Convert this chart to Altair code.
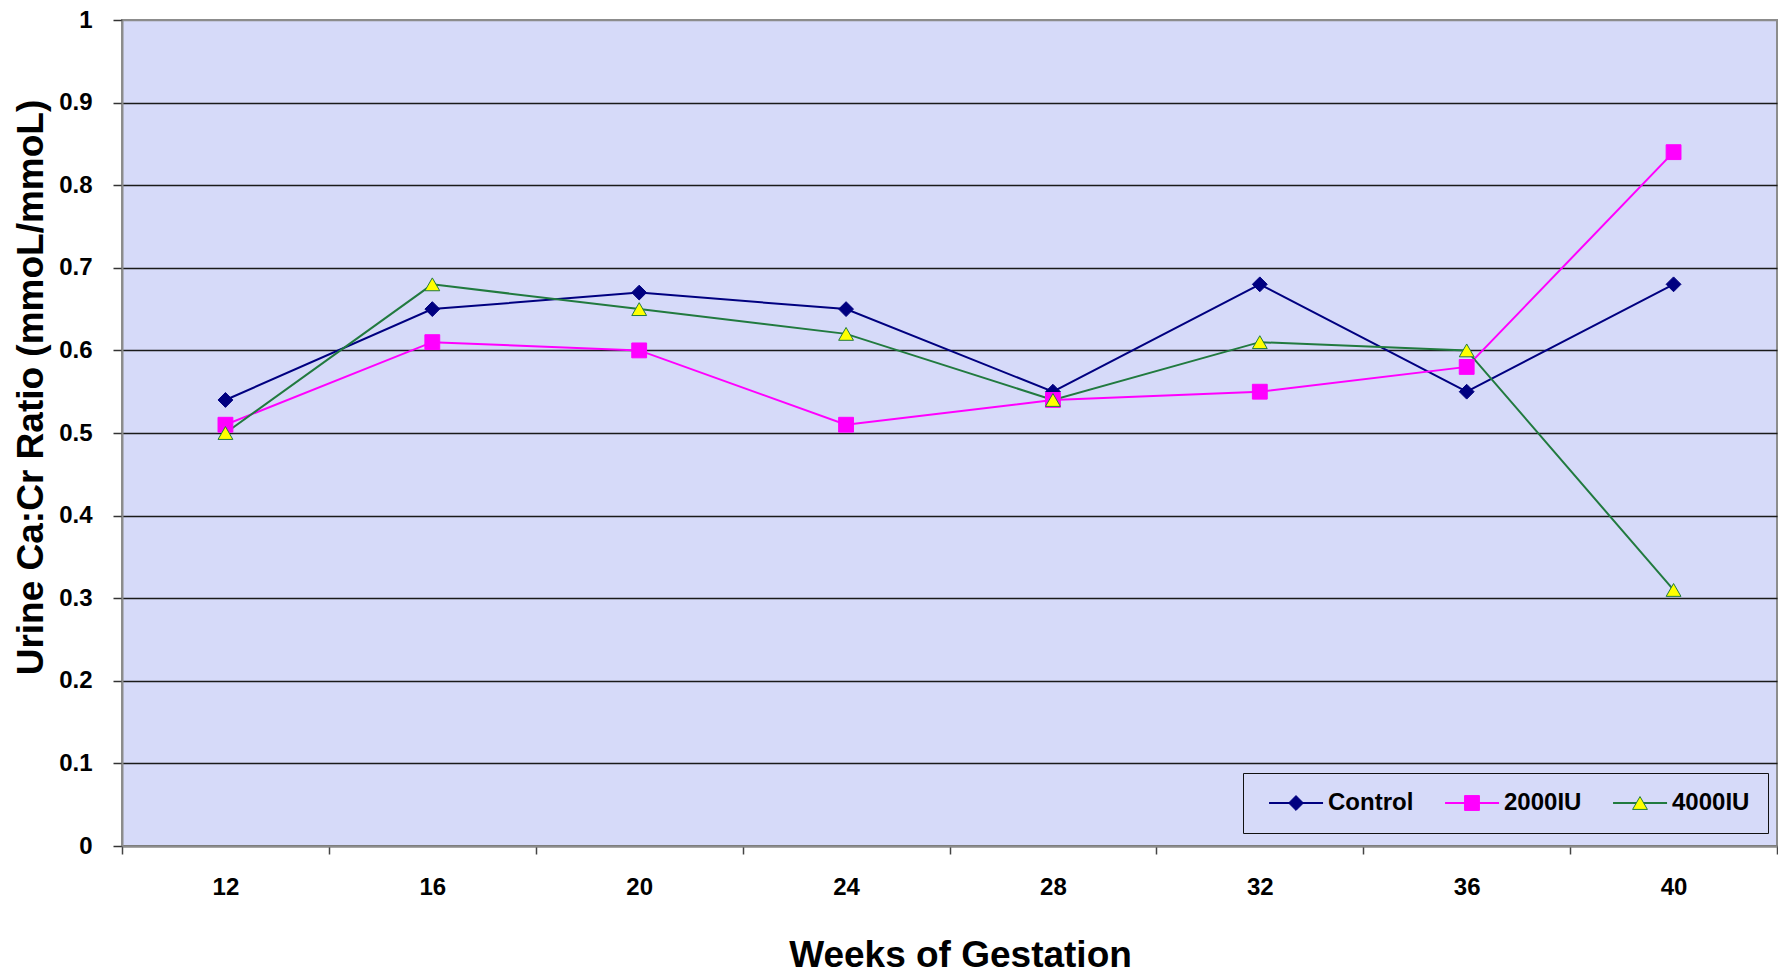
import altair as alt
import pandas as pd

weeks = [12, 16, 20, 24, 28, 32, 36, 40]
series_names = ["Control", "2000IU", "4000IU"]
control = [0.54, 0.65, 0.67, 0.65, 0.55, 0.68, 0.55, 0.68]
iu2000 = [0.51, 0.61, 0.60, 0.51, 0.54, 0.55, 0.58, 0.84]
iu4000 = [0.50, 0.68, 0.65, 0.62, 0.54, 0.61, 0.60, 0.31]
y_ticks = [0, 0.1, 0.2, 0.3, 0.4, 0.5, 0.6, 0.7, 0.8, 0.9, 1]

rows = []
for i, (name, vals) in enumerate(zip(series_names, [control, iu2000, iu4000])):
    for w, v in zip(weeks, vals):
        rows.append({"week": w, "series": name, "order": i, "value": v})
df = pd.DataFrame(rows)

line_colors = ["#000080", "#FF00FF", "#217A3F"]
fill_colors = ["#000080", "#FF00FF", "#FFFF00"]
shapes = ["diamond", "square", "triangle-up"]

FONT = "Liberation Sans"
BG = "#D6DAF9"

common_legend = dict(
    title=None,
    orient="none",
    legendX=1121,
    legendY=753,
    direction="horizontal",
    labelFont=FONT,
    labelFontSize=24,
    labelFontWeight="bold",
    labelColor="black",
    columnPadding=23,
    padding=18,
)

# legend with the line part of each entry (and the box + labels)
legend_lines = alt.Legend(
    symbolType="M-0.36,0H4.55",
    symbolSize=484,
    symbolStrokeWidth=2,
    labelOffset=43,
    fillColor=BG,
    strokeColor="#111111",
    zindex=0,
    **common_legend,
)

# legend with the marker part of each entry, drawn on top
legend_marks = alt.Legend(
    symbolSize=220,
    symbolStrokeWidth=1,
    symbolOffset=23,
    labelOffset=20,
    labelOpacity=0,
    zindex=1,
    **common_legend,
)

x_enc = alt.X(
    "week:O",
    scale=alt.Scale(type="band", paddingInner=0, paddingOuter=0),
    bandPosition=0.5,
    axis=alt.Axis(
        title="Weeks of Gestation",
        labelAngle=0,
        labelFont=FONT,
        labelFontSize=24,
        labelFontWeight="bold",
        labelColor="black",
        labelPadding=21,
        tickSize=8,
        tickColor="#444444",
        tickWidth=1.5,
        tickBand="extent",
        domainColor="#8c8c8c",
        domainWidth=2,
        grid=False,
        titleFont=FONT,
        titleFontSize=37,
        titleFontWeight="bold",
        titleColor="black",
        titleX=838,
        titleY=120,
        titleAlign="center",
        titleBaseline="alphabetic",
    ),
)

y_enc = alt.Y(
    "value:Q",
    scale=alt.Scale(domain=[0, 1], nice=False),
    axis=alt.Axis(
        title="Urine Ca:Cr Ratio (mmoL/mmoL)",
        values=y_ticks,
        format=".1~f",
        labelFont=FONT,
        labelFontSize=24,
        labelFontWeight="bold",
        labelColor="black",
        labelPadding=21,
        tickSize=9,
        tickColor="#333333",
        tickWidth=1.5,
        domainColor="#8c8c8c",
        domainWidth=2,
        grid=True,
        gridColor={"condition": {"test": "datum.value >= 1", "value": "#8c8c8c"}, "value": "#1a1a1a"},
        gridWidth=1.5,
        gridOpacity=1,
        titleFont=FONT,
        titleFontSize=37,
        titleFontWeight="bold",
        titleColor="black",
        titleX=-80,
        titleY=367,
        titleAngle=270,
        titleAlign="center",
        titleBaseline="alphabetic",
    ),
)

base = alt.Chart(df)

lines = base.mark_line(strokeWidth=2).encode(
    x=x_enc,
    y=y_enc,
    color=alt.Color("series:N", scale=alt.Scale(domain=series_names, range=line_colors), legend=legend_lines),
    detail="series:N",
)

sort_order = alt.EncodingSortField(field="order", op="min")
points = base.mark_point(filled=True, size=220, strokeWidth=1, opacity=1).encode(
    x=x_enc,
    y=y_enc,
    shape=alt.Shape("series:N", sort=sort_order, scale=alt.Scale(range=shapes), legend=legend_marks),
    fill=alt.Fill("series:N", sort=sort_order, scale=alt.Scale(range=fill_colors), legend=legend_marks),
    stroke=alt.Stroke("series:N", sort=sort_order, scale=alt.Scale(range=line_colors), legend=legend_marks),
)

chart = (
    alt.layer(lines, points)
    .properties(
        width=1655,
        height=826,
        autosize=alt.AutoSizeParams(type="none"),
        padding={"left": 114, "top": 12, "right": 1, "bottom": 122},
    )
    .configure_view(fill=BG, stroke="#8c8c8c", strokeWidth=2)
)

chart.save("out.html", embed_options={"renderer": "svg", "actions": False})
